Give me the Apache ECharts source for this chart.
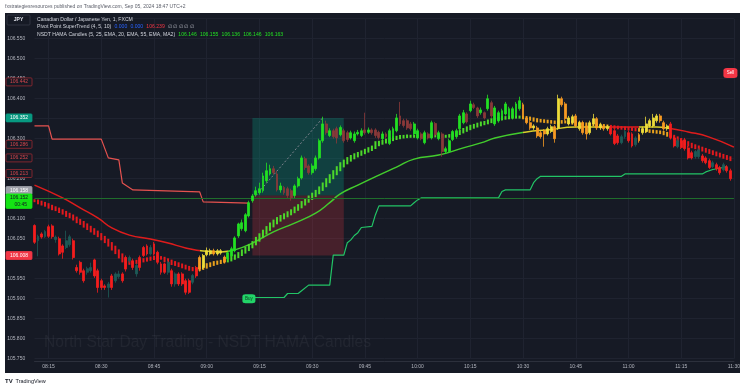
<!DOCTYPE html>
<html>
<head>
<meta charset="utf-8">
<title>CAD/JPY 1m - NSDT HAMA Candles</title>
<script src="https://cdn.jsdelivr.net/npm/echarts/dist/echarts.min.js"></script>
<style>
html,body{margin:0;padding:0;background:#ffffff;}
#chart{width:743px;height:390px;}
</style>
</head>
<body>
<div id="chart"></div>
<script>
// ================= DATA =================
const firstBar = '08:11';
const slotCount = 200; // 08:11 ... 11:30 (last slot has no bar)
const times = [];
(function () {
  let [h, m] = firstBar.split(':').map(Number);
  for (let k = 0; k < slotCount; k++) {
    times.push(String(h).padStart(2, '0') + ':' + String(m).padStart(2, '0'));
    m++; if (m === 60) { m = 0; h++; }
  }
})();

const open = [
106.083,106.045,106.062,106.055,106.080,106.082,106.048,106.050,106.032,106.028,
106.035,106.045,105.978,105.991,105.970,105.966,105.970,105.997,105.970,105.945,
105.932,105.928,105.957,105.945,105.955,105.962,106.003,105.995,105.995,105.962,
106.003,106.028,106.032,106.012,106.037,106.016,105.987,105.987,105.966,105.970,
105.937,105.962,105.962,105.945,105.945,105.941,105.978,106.003,105.978,106.010,
106.012,106.020,106.012,106.014,106.004,106.000,106.007,106.020,106.057,106.075,
106.070,106.107,106.145,106.160,106.165,106.170,106.195,106.212,106.225,106.212,
106.172,106.178,106.175,106.170,106.158,106.182,106.202,106.250,106.232,106.215,
106.225,106.252,106.295,106.337,106.308,106.320,106.325,106.310,106.320,106.315,
106.302,106.295,106.312,106.308,106.322,106.316,106.322,106.322,106.316,
106.300,106.312,106.288,106.302,106.320,106.357,106.345,106.345,106.337,106.312,
106.302,106.312,106.290,106.312,106.302,106.338,106.300,106.312,106.268,106.268,
106.298,106.305,106.325,106.340,106.362,106.370,106.385,106.377,106.365,106.365,
106.375,106.390,106.337,106.345,106.350,106.362,106.357,106.352,106.357,106.375,
106.385,106.352,106.340,106.327,106.327,106.315,106.320,106.312,106.318,106.330,
106.327,106.400,106.387,106.337,106.340,106.357,106.325,106.340,106.332,106.315,
106.337,106.350,106.327,106.332,106.325,106.327,106.320,106.307,106.290,106.305,
106.315,106.312,106.285,106.310,106.315,106.318,106.332,106.332,106.345,106.357,
106.340,106.325,106.337,106.302,106.280,106.295,106.297,106.277,106.265,106.255,
106.255,106.257,106.252,106.245,106.230,106.235,106.228,106.222,106.230,106.220
];
const close = [
106.041,106.056,106.054,106.068,106.056,106.055,106.054,106.012,106.016,106.045,
106.055,106.003,105.970,105.966,105.945,105.975,105.978,105.957,105.928,105.928,
105.928,105.937,105.928,105.962,105.962,105.945,105.974,106.003,105.978,105.983,
105.978,106.008,106.012,106.028,106.012,105.991,105.966,105.966,105.991,105.937,
105.962,105.937,105.937,105.916,105.916,105.958,105.957,105.974,106.008,106.020,
106.020,106.012,106.020,106.020,105.992,106.015,106.025,106.052,106.087,106.090,
106.110,106.140,106.157,106.170,106.175,106.207,106.220,106.225,106.215,106.172,
106.182,106.165,106.158,106.152,106.182,106.200,106.252,106.228,106.215,106.232,
106.252,106.295,106.337,106.315,106.320,106.305,106.302,106.328,106.295,106.298,
106.315,106.312,106.316,106.320,106.315,106.322,106.315,106.308,106.303,
106.312,106.305,106.320,106.325,106.352,106.337,106.333,106.327,106.325,106.337,
106.320,106.300,106.315,106.302,106.340,106.310,106.315,106.268,106.275,106.295,
106.318,106.320,106.357,106.365,106.342,106.387,106.378,106.357,106.372,106.352,
106.400,106.357,106.377,106.365,106.370,106.387,106.375,106.375,106.387,106.395,
106.357,106.340,106.327,106.332,106.307,106.305,106.312,106.325,106.330,106.300,
106.400,106.385,106.350,106.352,106.355,106.332,106.340,106.315,106.312,106.340,
106.350,106.327,106.335,106.325,106.330,106.312,106.288,106.290,106.305,106.318,
106.295,106.282,106.302,106.295,106.325,106.337,106.345,106.352,106.357,106.345,
106.325,106.332,106.303,106.282,106.295,106.278,106.275,106.252,106.252,106.268,
106.272,106.245,106.240,106.228,106.240,106.225,106.215,106.235,106.220,106.200
];
const low = [
106.037,106.006,106.050,106.052,106.052,106.050,106.040,106.008,106.000,106.024,
106.030,105.998,105.965,105.960,105.940,105.960,105.965,105.952,105.915,105.922,
105.922,105.903,105.922,105.940,105.950,105.940,105.968,105.990,105.972,105.955,
105.970,106.004,106.008,106.008,106.008,105.986,105.960,105.962,105.960,105.930,
105.930,105.932,105.932,105.910,105.912,105.936,105.952,105.968,105.974,106.006,
106.008,106.008,106.008,106.010,105.988,105.996,106.003,106.016,106.052,106.070,
106.066,106.103,106.140,106.155,106.160,106.165,106.190,106.208,106.210,106.168,
106.165,106.160,106.152,106.145,106.152,106.178,106.198,106.222,106.210,106.210,
106.220,106.248,106.290,106.310,106.304,106.300,106.288,106.306,106.290,106.292,
106.298,106.290,106.308,106.304,106.310,106.312,106.310,106.302,106.298,
106.296,106.300,106.284,106.298,106.316,106.332,106.328,106.322,106.320,106.308,
106.298,106.296,106.286,106.298,106.298,106.305,106.296,106.255,106.262,106.264,
106.294,106.300,106.320,106.336,106.338,106.366,106.374,106.352,106.360,106.348,
106.370,106.352,106.332,106.340,106.346,106.358,106.352,106.348,106.352,106.370,
106.352,106.336,106.322,106.322,106.302,106.300,106.280,106.308,106.314,106.290,
106.322,106.380,106.345,106.333,106.336,106.328,106.320,106.310,106.298,106.310,
106.332,106.322,106.322,106.320,106.320,106.308,106.284,106.285,106.286,106.300,
106.290,106.278,106.280,106.290,106.310,106.314,106.328,106.328,106.340,106.340,
106.320,106.320,106.298,106.278,106.276,106.274,106.270,106.248,106.248,106.250,
106.250,106.240,106.236,106.224,106.226,106.220,106.210,106.218,106.215,106.195
];
const high = [
106.086,106.060,106.066,106.072,106.085,106.086,106.058,106.055,106.036,106.070,
106.060,106.050,105.985,105.995,105.975,105.980,105.990,106.000,105.975,105.950,
105.936,105.942,105.962,105.966,105.970,105.966,106.008,106.008,106.000,105.988,
106.008,106.032,106.036,106.034,106.042,106.020,105.992,105.990,105.995,105.975,
105.966,105.966,105.966,105.950,105.950,105.962,105.982,106.008,106.012,106.028,
106.025,106.025,106.024,106.024,106.008,106.018,106.030,106.056,106.090,106.098,
106.114,106.145,106.162,106.180,106.190,106.215,106.240,106.235,106.232,106.220,
106.190,106.182,106.180,106.175,106.186,106.205,106.258,106.255,106.236,106.238,
106.258,106.300,106.355,106.345,106.326,106.325,106.330,106.333,106.325,106.320,
106.320,106.318,106.322,106.326,106.365,106.328,106.326,106.326,106.320,
106.318,106.316,106.325,106.330,106.362,106.392,106.350,106.350,106.342,106.342,
106.325,106.316,106.320,106.316,106.345,106.342,106.320,106.316,106.280,106.300,
106.322,106.325,106.362,106.372,106.366,106.395,106.390,106.380,106.378,106.368,
106.410,106.395,106.382,106.370,106.375,106.392,106.380,106.380,106.392,106.405,
106.390,106.356,106.344,106.336,106.332,106.320,106.324,106.330,106.335,106.334,
106.410,106.405,106.392,106.357,106.360,106.362,106.345,106.345,106.336,106.345,
106.362,106.354,106.340,106.336,106.334,106.332,106.325,106.312,106.310,106.322,
106.320,106.316,106.306,106.314,106.330,106.355,106.350,106.362,106.362,106.362,
106.345,106.336,106.342,106.306,106.300,106.300,106.302,106.282,106.270,106.272,
106.276,106.262,106.256,106.250,106.245,106.240,106.232,106.240,106.234,106.225
];

// HAMA signal line (drawn as short bars, one per candle)
const hamaLine = [
106.145,106.142,106.139,106.136,106.132,106.128,106.125,106.121,106.117,106.112,
106.108,106.103,106.097,106.092,106.086,106.080,106.074,106.068,106.062,106.055,
106.048,106.040,106.031,106.022,106.012,106.002,105.992,105.990,105.990,105.992,
105.994,105.996,105.998,106.000,106.002,106.003,106.002,105.998,105.995,105.991,
105.988,105.985,105.982,105.979,105.976,105.974,105.972,105.975,105.978,105.982,
105.985,105.988,105.990,105.992,105.994,105.996,106.000,106.004,106.009,106.015,
106.021,106.028,106.035,106.044,106.053,106.062,106.071,106.080,106.088,106.095,
106.101,106.106,106.111,106.116,106.122,106.128,106.135,106.142,106.149,106.156,
106.163,106.171,106.180,106.190,106.200,106.210,106.220,106.230,106.238,106.245,
106.251,106.256,106.260,106.264,106.268,106.272,106.276,106.284,106.288,
106.291,106.294,106.297,106.300,106.302,106.304,106.305,106.306,106.306,106.306,
106.306,106.306,106.306,106.306,106.307,106.307,106.307,106.306,106.306,106.307,
106.309,106.312,106.316,106.320,106.324,106.328,106.331,106.334,106.337,106.339,
106.342,106.345,106.347,106.349,106.351,106.352,106.353,106.354,106.354,106.354,
106.353,106.352,106.350,106.348,106.346,106.345,106.344,106.343,106.342,106.341,
106.341,106.342,106.342,106.341,106.340,106.339,106.338,106.337,106.336,106.335,
106.335,106.334,106.333,106.332,106.331,106.330,106.329,106.328,106.327,106.326,
106.325,106.324,106.323,106.322,106.321,106.320,106.319,106.318,106.317,106.316,
106.314,106.311,106.307,106.303,106.299,106.295,106.291,106.287,106.283,106.280,
106.277,106.274,106.271,106.268,106.265,106.262,106.259,106.256,106.253,106.250
];

// slow HAMA moving average (read at points along the curve)
const maTimes = ['08:11','08:19','08:24','08:29','08:33','08:38','08:44','08:49','08:54','08:59',
  '09:04','09:08','09:13','09:19','09:25','09:31','09:35','09:38','09:43','09:49','09:54','09:59',
  '10:06','10:13','10:19','10:22','10:31','10:37','10:45','10:51','10:56','11:02','11:08','11:11',
  '11:17','11:23','11:30'];
const maValues = [106.184,106.152,106.127,106.102,106.077,106.059,106.049,106.039,106.027,106.019,
  106.017,106.022,106.039,106.067,106.089,106.114,106.140,106.162,106.184,106.209,106.229,106.249,
  106.259,106.277,106.292,106.302,106.317,106.322,106.329,106.329,106.329,106.329,106.329,106.327,
  106.317,106.304,106.279];

// Pivot Point SuperTrend (corner points)
const stRedTimes = ['08:11','08:15','08:16','08:30','08:32','08:35','08:36','08:39','08:58','08:59','09:12'];
const stRedValues = [106.332,106.332,106.299,106.299,106.252,106.247,106.189,106.172,106.167,106.142,106.139];
const stGreenTimes = ['09:12','09:22','09:23','09:26','09:27','09:29','09:35','09:36','09:39','09:40','09:41',
  '09:42','09:43','09:44','09:47','09:48','09:49','09:58','09:59','10:00','10:01','10:23','10:24','10:25',
  '10:32','10:33','10:34','10:35','10:58','10:59','11:21','11:22','11:24','11:27','11:28'];
const stGreenValues = [105.903,105.903,105.913,105.913,105.920,105.934,105.934,106.009,106.009,106.040,106.047,
  106.058,106.065,106.078,106.081,106.110,106.132,106.132,106.140,106.147,106.152,106.152,106.168,106.172,
  106.172,106.190,106.200,106.206,106.206,106.212,106.212,106.217,106.223,106.228,106.230];

// signals
const signalTimes = ['09:12', '11:29'];
const signalPrices = [105.900, 106.464];
const signalTexts = ['Buy', 'Sell'];

// long position tool
const posStartTime = '09:13', posEndTime = '09:39';
const posEntry = 106.158, posTarget = 106.352, posStop = 106.008;
const pathFromTime = '09:14', pathToTime = '09:33';
const lastPrice = 106.152;

// price-scale markers
const markerValues = [106.442, 106.352, 106.286, 106.252, 106.213, 106.158, 106.152, 106.008];
const markerKinds  = ['pivot','target','pivot','pivot','pivot','entry','last','stop'];
const hiddenTicks  = [106.600, 106.000];

// HAMA trend zones (colour state)
const zoneStarts = ['08:11','08:58','09:06','10:30','10:55','11:03','11:12'];
const zoneEnds   = ['08:57','09:05','10:29','10:54','11:02','11:11','11:30'];
const zoneStates = ['bear','flat','bull','flat','bear','flat','bear'];

// ================= STYLE =================
const palette = {
  candle: {
    bear: { up: '#1d5a57', down: '#f41d1d' },
    flat: { up: '#eedc3a', down: '#f79a22' },
    bull: { up: '#22e022', down: '#8a3939' }
  },
  line: { bear: '#df1b1b', flat: '#d8cf2a', bull: '#42cc2c' },
  dash: { bear: '#e3191d', flat: '#e9a21d', bull: '#4cd82a' }
};
const markerStyles = {
  pivot:  { fill: '#161a25', stroke: '#9b2a31', color: '#d5464c', dy: 0 },
  target: { fill: '#089981', stroke: '#089981', color: '#ffffff', dy: 0 },
  entry:  { fill: '#9ea1aa', stroke: '#9ea1aa', color: '#ffffff', dy: -5 },
  last:   { fill: '#14e414', stroke: '#14e414', color: '#131722', dy: 0 },
  stop:   { fill: '#f23645', stroke: '#f23645', color: '#ffffff', dy: 0 }
};
const FONT = 'Liberation Sans';

// ================= BUILD =================
const idx = t => times.indexOf(t);
function stateOf(i) {
  for (let k = 0; k < zoneStarts.length; k++) {
    if (i >= idx(zoneStarts[k]) && i <= idx(zoneEnds[k])) return zoneStates[k];
  }
  return 'bear';
}
const candleData = open.map((o, i) => {
  const up = close[i] >= o;
  const c = palette.candle[stateOf(i)][up ? 'up' : 'down'];
  return { value: [o, close[i], low[i], high[i]],
           itemStyle: { color: c, color0: c, borderColor: c, borderColor0: c } };
});
const maPieces = zoneStarts.map((s, k) => ({
  gte: idx(s) - 0.5, lt: idx(zoneEnds[k]) + 0.5, color: palette.line[zoneStates[k]]
}));
const isQuarter = (i, v) => /:(00|15|30|45)$/.test(v);

const chart = echarts.init(document.getElementById('chart'));
const gridLeft = 34.5, gridTop = 18.7;
const option = {
  animation: false,
  backgroundColor: '#161a25',
  grid: { left: gridLeft, top: gridTop, width: 704.3, height: 340 },
  xAxis: {
    type: 'category', data: times, boundaryGap: false, offset: 2.5,
    axisLine: { lineStyle: { color: '#2c303c' } },
    axisTick: { show: false },
    axisLabel: { interval: isQuarter, color: '#b2b5be', fontSize: 5, margin: 3, fontFamily: FONT },
    splitLine: { show: true, interval: isQuarter, lineStyle: { color: '#1f2330', width: 1 } }
  },
  yAxis: {
    type: 'value', min: 105.75, max: 106.6, interval: 0.05, scale: true,
    axisLine: { show: false }, axisTick: { show: false },
    axisLabel: { color: '#b2b5be', fontSize: 5, margin: 9.3, fontFamily: FONT,
      formatter: v => hiddenTicks.some(h => Math.abs(h - v) < 1e-6) ? '' : v.toFixed(3) },
    splitLine: { lineStyle: { color: '#1f2330', width: 1 } }
  },
  visualMap: [{ type: 'piecewise', show: false, seriesIndex: 1, dimension: 0, pieces: maPieces,
    outOfRange: { color: palette.line.bear } }],
  series: [
    { // position tool + price line
      type: 'line', data: [], z: 1, silent: true,
      markArea: { silent: true, data: [
        [{ xAxis: posStartTime, yAxis: posEntry, itemStyle: { color: 'rgba(8,153,129,0.30)' } },
         { xAxis: posEndTime, yAxis: posTarget }],
        [{ xAxis: posStartTime, yAxis: posStop, itemStyle: { color: 'rgba(242,54,69,0.22)' } },
         { xAxis: posEndTime, yAxis: posEntry }]
      ] },
      markLine: { silent: true, symbol: 'none', label: { show: false }, data: [
        { yAxis: lastPrice, lineStyle: { color: '#1f6e2c', width: 1, type: 'solid' } },
        [{ coord: [pathFromTime, posEntry], lineStyle: { color: '#7d828d', width: 1, type: [2, 2] } },
         { coord: [pathToTime, posTarget] }]
      ] }
    },
    { // slow HAMA MA
      type: 'line', z: 3, smooth: 0.5, symbol: 'none', silent: true,
      lineStyle: { width: 1.5 },
      data: maTimes.map((t, k) => [idx(t), maValues[k]])
    },
    { // SuperTrend down
      type: 'line', z: 3, symbol: 'none', silent: true,
      lineStyle: { width: 1.2, color: '#e5524f' },
      data: stRedTimes.map((t, k) => [idx(t), stRedValues[k]])
    },
    { // SuperTrend up
      type: 'line', z: 3, symbol: 'none', silent: true,
      lineStyle: { width: 1.2, color: '#22c466' },
      data: stGreenTimes.map((t, k) => [idx(t), stGreenValues[k]])
    },
    { // HAMA line as short bars
      type: 'custom', z: 4, silent: true,
      data: hamaLine.map((v, i) => [i, v]),
      encode: { x: 0, y: 1 },
      renderItem: (params, api) => {
        const i = api.value(0);
        const p = api.coord([i, api.value(1)]);
        const q = i > 0 ? api.coord([i - 1, hamaLine[i - 1]]) : p;
        const h = 3 + 1.5 * Math.abs(p[1] - q[1]);
        return { type: 'rect', shape: { x: p[0] - 1, y: p[1] - h / 2, width: 2, height: h },
                 style: { fill: palette.dash[stateOf(i)] } };
      }
    },
    { // candles
      type: 'candlestick', z: 5, clip: false, barWidth: 2.4, silent: true,
      itemStyle: { borderWidth: 0.8 },
      data: candleData,
      markPoint: { silent: true, data: signalTimes.map((t, k) => ({
        coord: [t, signalPrices[k]], symbol: 'roundRect',
        symbolSize: signalTexts[k] === 'Buy' ? [13, 9] : [14, 10],
        itemStyle: { color: signalTexts[k] === 'Buy' ? '#22d468' : '#f23645' },
        label: { show: true, formatter: signalTexts[k], fontSize: 4.5, fontFamily: FONT,
                 color: signalTexts[k] === 'Buy' ? '#0b3d1e' : '#ffffff' }
      })) }
    }
  ]
};
chart.setOption(option);

// ---------- overlay: frame, header, axis markers ----------
const ctx = document.createElement('canvas').getContext('2d');
function tw(text, size, weight) { ctx.font = (weight || 'normal') + ' ' + size + 'px "' + FONT + '"'; return ctx.measureText(text).width; }
function txt(x, y, text, size, fill, opts) {
  opts = opts || {};
  return { type: 'text', x: x, y: y, z: opts.z || 60, silent: true,
    style: { text: text, fill: fill, fontSize: size, fontFamily: FONT, fontWeight: opts.weight || 'normal',
             align: opts.align || 'left', textAlign: opts.align || 'left',
             verticalAlign: 'middle', textVerticalAlign: 'middle' } };
}
const g = [];
// white margins around the dark panel
[[0, 0, 743, 13], [0, 373, 743, 17], [0, 0, 5, 390], [740, 0, 3, 390]].forEach(r =>
  g.push({ type: 'rect', z: 40, silent: true, shape: { x: r[0], y: r[1], width: r[2], height: r[3] }, style: { fill: '#ffffff' } }));
// watermark
g.push(txt(44, 343, 'North Star Day Trading - NSDT HAMA Candles', 15.6, 'rgba(255,255,255,0.05)', { z: 0 }));
// publisher line + footer
g.push(txt(5, 6.5, 'fxstrategiesresources published on TradingView.com, Sep 05, 2024 18:47 UTC+2', 5, '#5d606b'));
g.push(txt(5, 381.5, 'TV', 6, '#131722', { weight: 'bold' }));
g.push(txt(15.5, 381.5, 'TradingView', 5.5, '#131722'));
// symbol box + legend
g.push({ type: 'rect', z: 59, silent: true, shape: { x: 7, y: 15, width: 23, height: 10, r: 1 }, style: { fill: '#161a25', stroke: '#363a46', lineWidth: 0.8 } });
g.push(txt(18.5, 20, 'JPY', 5, '#e0e3eb', { align: 'center', weight: 'bold' }));
const LX = 37, fs = 5.1;
g.push(txt(LX, 19.5, 'Canadian Dollar / Japanese Yen, 1, FXCM', fs, '#d1d4dc'));
function legendRow(y, parts) {
  let x = LX;
  parts.forEach(p => { g.push(txt(x, y, p[0], fs, p[1])); x += tw(p[0], fs) + 3.2; });
}
legendRow(27, [['Pivot Point SuperTrend (4, 5, 10)', '#d1d4dc'], ['0.000', '#2962ff'], ['0.000', '#2962ff'],
  ['106.239', '#f23645'], ['\u2205 \u2205 \u2205 \u2205 \u2205', '#b2b5be']]);
legendRow(34.5, [['NSDT HAMA Candles (5, 25, EMA, 20, EMA, 55, EMA, MA2)', '#d1d4dc'], ['106.146', '#22e022'],
  ['106.155', '#22e022'], ['106.136', '#22e022'], ['106.146', '#22e022'], ['106.163', '#22e022']]);
// price scale markers
markerValues.forEach((v, k) => {
  const s = markerStyles[markerKinds[k]];
  const y = chart.convertToPixel({ yAxisIndex: 0 }, v) + s.dy;
  const two = markerKinds[k] === 'last';
  g.push({ type: 'rect', z: 55, silent: true, shape: { x: 6, y: y - 4, width: 26, height: two ? 14.5 : 8, r: 1 },
           style: { fill: s.fill, stroke: s.stroke, lineWidth: 0.8 } });
  g.push(txt(19, y, v.toFixed(3), 5, s.color, { align: 'center', z: 56 }));
  if (two) g.push(txt(27, y + 6.8, '00:45', 5, s.color, { align: 'right', z: 56 }));
});
chart.setOption({ graphic: { elements: g } });
</script>
</body>
</html>
